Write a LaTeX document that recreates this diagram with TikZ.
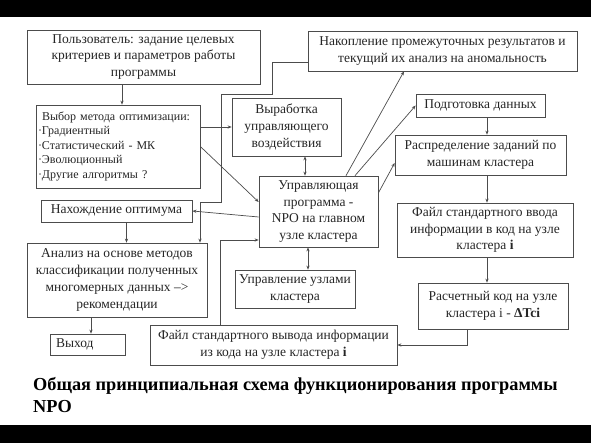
\documentclass[tikz,border=0pt]{standalone}
\usepackage{fontspec}
\setmainfont{Liberation Serif}
\usetikzlibrary{arrows.meta}

\tikzset{
  blok/.style={draw=black!70, line width=0.7pt, text=black!85, align=center, inner sep=1pt,
    font=\fontsize{13.5}{16.8}\selectfont},
  svyaz/.style={draw=black!70, line width=0.7pt, -{Stealth[length=4pt,width=3.2pt]}},
  dvesv/.style={draw=black!70, line width=0.7pt, {Stealth[length=4pt,width=3.2pt]}-{Stealth[length=4pt,width=3.2pt]}}
}

\begin{document}
\begin{tikzpicture}[x=1pt, y=-1pt]
\useasboundingbox (0,0) rectangle (591,443);
\fill[white] (0,0) rectangle (591,443);
\fill[black] (0,0) rectangle (591,17);
\fill[black] (0,425) rectangle (591,443);

\node(user) [blok, minimum width=233pt, minimum height=54pt] at (143.5,57) {Пользователь: задание целевых\\критериев и параметров работы\\программы};
\node(vybor) [blok, minimum width=164pt, minimum height=83pt, align=left, text width=160pt,
  font=\fontsize{12}{14.5}\selectfont] at (118,146.5) {\hspace*{4pt}Выбор метода оптимизации:\\·Градиентный\\·Статистический - МК\\·Эволюционный\\·Другие алгоритмы ?};
\node(vyrab) [blok, minimum width=109pt, minimum height=58pt] at (286.5,127) {Выработка\\управляющего\\воздействия};
\node(nakop) [blok, minimum width=269pt, minimum height=40pt] at (442.5,51) {Накопление промежуточных результатов и\\текущий их анализ на аномальность};
\node(podg) [blok, minimum width=129pt, minimum height=23pt] at (480.5,105.5) {Подготовка данных};
\node(raspr) [blok, minimum width=171pt, minimum height=40pt] at (480.5,155) {Распределение заданий по\\машинам кластера};
\node(uprav) [blok, minimum width=119pt, minimum height=71pt] at (318.5,211.5) {Управляющая\\программа -\\NPO на главном\\узле кластера};
\node(nahozh) [blok, minimum width=151pt, minimum height=22pt] at (116.5,211) {Нахождение оптимума};
\node(analiz) [blok, minimum width=180pt, minimum height=74pt] at (117,280) {Анализ на основе методов\\классификации полученных\\многомерных данных --{}>\\рекомендации};
\node(vyhod) [blok, minimum width=75pt, minimum height=21pt, align=left, text width=69pt] at (87.5,344.5) {\hspace*{3pt}Выход};
\node(upruzl) [blok, minimum width=120pt, minimum height=38pt] at (295,289) {Управление узлами\\кластера};
\node(fvyv) [blok, minimum width=247pt, minimum height=40pt] at (273.5,345) {Файл стандартного вывода информации\\из кода на узле кластера \textbf{i}};
\node(fvvod) [blok, minimum width=176pt, minimum height=54pt] at (485,230) {Файл стандартного ввода\\информации в код на узле\\кластера \textbf{i}};
\node(rasch) [blok, minimum width=150pt, minimum height=46pt] at (493,306) {Расчетный код на узле\\кластера i - \textbf{ΔTci}};
\node(title) [anchor=north west, align=left, inner sep=0pt, text=black,
  font=\fontsize{18.3}{22}\selectfont\bfseries] at (33,377) {Общая принципиальная схема функционирования программы\\NPO};

\draw[svyaz] ([xshift=4pt]vybor.north |- user.south) -- ([xshift=4pt]vybor.north);
\draw[svyaz] (vyrab.west -| vybor.east) -- (vyrab.west);
\draw[svyaz] (vybor.east) -- ([yshift=9.5pt]uprav.west);
\draw[dvesv] ([xshift=-13.5pt]uprav.north) -- ([xshift=-13.5pt]uprav.north |- vyrab.south);
\draw[svyaz] ([yshift=-11pt]nakop.west) -- ++(-35,0) -- ++(0,32) -- ++(-51,0) -- ++(0,108) -| ([xshift=83pt]analiz.north);
\draw[svyaz] ([yshift=-5.5pt]uprav.west) -- (nahozh.east);
\draw[svyaz] ([xshift=10pt]nahozh.south) -- ([xshift=10pt]nahozh.south |- analiz.north);
\draw[svyaz] ([xshift=3.5pt]vyhod.north |- analiz.south) -- ([xshift=3.5pt]vyhod.north);
\draw[dvesv] ([xshift=-10.5pt]uprav.south) -- ([xshift=-10.5pt]uprav.south |- upruzl.north);
\draw[svyaz] ([xshift=27.5pt]uprav.north) -- ([xshift=-38.5pt]nakop.south);
\draw[svyaz] ([xshift=36.5pt]uprav.north) -- (podg.west);
\draw[svyaz] ([yshift=18.5pt]uprav.east) -- ([yshift=-8pt]raspr.west);
\draw[svyaz] ([xshift=6.5pt]podg.south) -- ([xshift=6.5pt]podg.south |- raspr.north);
\draw[svyaz] ([xshift=6.5pt]raspr.south) -- ([xshift=6.5pt]raspr.south |- fvvod.north);
\draw[svyaz] ([xshift=2pt]fvvod.south) -- ([xshift=2pt]fvvod.south |- rasch.north);
\draw[svyaz] ([xshift=-26pt]rasch.south) |- (fvyv.east);
\draw[svyaz] ([xshift=-53.5pt]fvyv.north) |- ([yshift=-28.5pt]uprav.west);
\end{tikzpicture}
\end{document}
